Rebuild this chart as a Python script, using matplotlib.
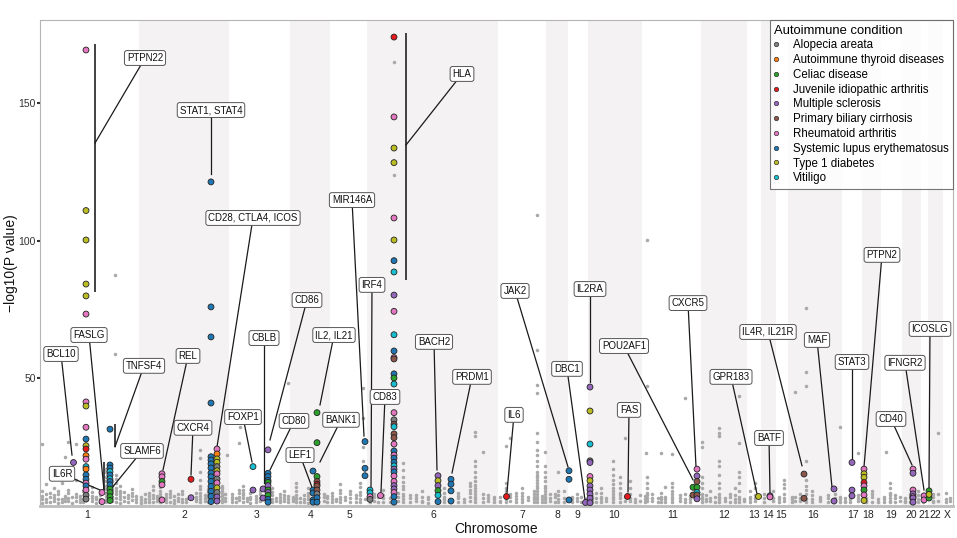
import matplotlib
matplotlib.use("Agg")
import matplotlib.pyplot as plt
from matplotlib.lines import Line2D

plt.rcParams['font.family'] = ['Liberation Sans', 'DejaVu Sans']

# ---------------- data ----------------
chrom_names = ["1", "2", "3", "4", "5", "6", "7", "8", "9", "10", "11", "12",
               "13", "14", "15", "16", "17", "18", "19", "20", "21", "22", "X"]
chrom_start = [0, 99, 189, 250, 290, 327, 458, 506, 528, 548, 602, 661,
               707, 721, 736, 748, 802, 822, 841, 862, 881, 888, 903]
chrom_end = [99, 189, 250, 290, 327, 458, 506, 528, 548, 602, 661, 707,
             721, 736, 748, 802, 822, 841, 862, 881, 888, 903, 913]
chrom_tick = [47, 144, 217, 271, 309, 393, 482, 517, 537, 574, 633, 684,
              714, 728, 741, 773, 813, 828, 851, 871, 884, 895, 907]

cond_names = ["Alopecia areata", "Autoimmune thyroid diseases", "Celiac disease",
              "Juvenile idiopathic arthritis", "Multiple sclerosis",
              "Primary biliary cirrhosis", "Rheumatoid arthritis",
              "Systemic lupus erythematosus", "Type 1 diabetes", "Vitiligo"]
cond_codes = ["A", "T", "C", "J", "M", "P", "R", "S", "D", "V"]
cond_colors = ["#7F7F7F", "#FF7F0E", "#2CA02C", "#E41A1C", "#9467BD",
               "#8C564B", "#E377C2", "#1F77B4", "#BCBD22", "#17BECF"]

# significant associations: one column per locus
col_pos = [46, 33, 62, 70, 122, 151, 171, 177, 213, 223, 228, 273, 277, 325, 330,
           340, 354, 398, 411, 466, 529, 545, 550, 587, 653, 657, 718, 730, 764,
           794, 812, 824, 873, 884, 889]
col_vals = [
    [169.2, 110.9, 100.2, 84.2, 79.9, 73.3, 41.4, 39.9, 32.2, 27.9, 25.5, 24.3, 21.9,
     20.6, 17.9, 17.0, 14.9, 13.3, 11.9, 10.9, 9.4, 7.5, 6.1],
    [19.7],
    [8.5, 5.2],
    [31.5, 18.5, 17.4, 16.1, 14.9, 13.5, 12.5, 11.3, 9.8, 8.5, 7.0, 5.6],
    [15.3, 14.2, 12.5, 11.3, 5.8],
    [13.3, 6.6],
    [121.3, 75.9, 65.0, 41.0, 21.5, 20.3, 18.9, 17.4, 15.6, 14.2, 12.5, 10.7, 8.9, 7.1, 5.2],
    [24.3, 22.5, 20.7, 19.5, 17.9, 16.4, 15.3, 13.4, 12.0, 10.2, 8.5, 6.9, 5.4],
    [17.9, 9.4],
    [9.8, 6.5],
    [24.0, 15.5, 14.3, 12.9, 12.2, 11.0, 9.4, 8.5, 7.5, 6.0, 5.0],
    [16.3, 9.4, 8.3, 5.8, 5.0],
    [37.5, 26.6, 14.3, 12.5, 11.5, 10.9, 9.4, 8.0, 6.6, 5.0],
    [27.0, 17.3, 14.6],
    [9.4, 8.4, 7.0, 6.0],
    [7.5],
    [173.9, 144.9, 133.6, 128.3, 108.2, 100.2, 92.7, 88.6, 80.2, 74.3, 65.8, 59.9, 57.5,
     57.0, 51.6, 50.1, 47.9, 37.5, 34.9, 33.3, 32.4, 29.8, 28.4, 26.1, 23.6, 22.1, 21.0,
     19.5, 18.2, 17.0, 16.0, 14.5, 12.5, 11.0, 9.8, 8.5, 7.0, 5.0],
    [14.6, 12.8, 11.0, 9.2, 7.5, 5.2],
    [13.3, 11.5, 9.1, 5.4],
    [7.3],
    [16.4, 13.3, 5.8],
    [5.1],
    [46.8, 38.1, 26.1, 20.0, 19.4, 14.3, 12.8, 10.9, 9.4, 8.0, 6.4, 4.8],
    [7.3],
    [10.4, 7.6],
    [17.0, 14.5, 12.5, 10.4, 8.5, 7.6, 6.2],
    [7.3],
    [7.3, 6.9],
    [15.2, 6.4],
    [9.8, 5.4],
    [19.4, 9.4, 7.3],
    [17.0, 15.3, 14.0, 12.1, 10.9, 9.4, 7.6, 5.6],
    [17.0, 15.5, 9.4, 8.0, 7.0, 6.5, 5.0],
    [7.3, 5.8],
    [9.1, 6.5, 7.8],
]
col_conds = [
    "RDDDDRRDRSDJTRVTSSRSRAA", "M", "RR", "SSSVSVSSCCCC", "RRCRR", "JM",
    "SSSSSSSSSSSSSSS", "RTDDADRARDAMM", "VM", "MM", "MSSSCMCMCSS", "SSSSS",
    "CCCPJPPASS", "SSS", "VVRA", "R",
    "JRDDRDSVMRVSRPSCVRAPVPPRSRSSVMSRRMMRSS",
    "MDMCVS", "SSSS", "J", "SSS", "M", "MDVAMRDMMMMM", "J", "CP", "RMPCVPM",
    "D", "MR", "PP", "MM", "MMM", "RDDJRCRD", "RMRMRMM", "RR", "CCD",
]

# background SNPs: streaks of points at one position
gray_pos = [2, 6, 10, 14, 18, 22, 25, 28, 32, 36, 40, 43, 52, 56, 60, 66, 72, 75, 76, 80,
            84, 88, 92, 96,
            101, 105, 109, 113, 117, 120, 126, 130, 134, 138, 142, 146, 156, 160, 165,
            168, 182, 185, 187,
            192, 196, 199, 200, 203, 207, 210, 216, 220, 232, 236, 240, 244, 248,
            253, 256, 260, 264, 268, 284, 287,
            292, 296, 300, 305, 310, 316, 320, 323, 325,
            330, 334, 338, 343, 350, 354, 358, 363, 370, 376, 382, 388, 404, 418, 424,
            430, 435, 443, 448, 454,
            460, 466, 470, 476, 482, 488, 494, 497, 502,
            505, 510, 515, 518, 524,
            532, 537, 541, 546,
            552, 556, 561, 566, 573, 580, 585, 590, 595, 600,
            605, 606, 607, 612, 618, 621, 625, 632, 640, 645, 650,
            662, 666, 670, 675, 679, 685, 690, 695, 699, 704,
            710, 715, 724, 733, 739, 744,
            752, 755, 760, 766, 772, 780, 788, 795, 800,
            805, 810, 818, 826, 832, 838, 844, 846, 850, 855, 860,
            865, 870, 878, 883, 893, 898, 906, 910]
gray_vals = [
    [4.8, 6.0, 7.1, 9.0, 26.1], [5.2, 6.3, 8.0, 11.5], [4.9, 7.0, 8.2],
    [5.4, 6.5, 7.6, 10.0], [4.7, 6.0, 7.8, 9.1], [5.0, 6.1, 12.0],
    [5.5, 6.5, 7.4, 21.5], [5.3, 6.4, 8.5, 9.5, 27.0], [4.8, 7.0],
    [5.5, 6.8, 8.0, 13.0, 26.1], [5.2, 6.2, 7.3], [4.9, 6.3, 9.0],
    [5.4, 6.5, 7.2, 8.8, 10.5], [4.8, 6.0, 7.0], [5.0, 6.2, 7.5],
    [5.0, 6.2, 7.2, 8.2, 9.6, 11.0, 12.5, 14.0, 16.0, 17.0],
    [5.5, 6.3, 7.0, 8.2, 9.5, 11.0, 12.5], [87.5, 58.8],
    [5.2, 6.6, 8.0, 9.0, 10.0, 11.8, 13.5, 15.0], [4.8, 6.0, 7.3, 8.2, 9.0, 11.0],
    [5.4, 6.8, 8.6], [5.0, 6.5, 7.6], [5.8, 7.4, 8.5, 9.6], [5.2, 6.3, 7.1],
    [4.8, 5.8, 7.0], [5.2, 6.2, 8.1], [5.0, 6.0, 7.2, 8.5], [4.9, 6.5, 7.5, 9.5, 11.0],
    [5.3, 6.4, 7.2], [5.1, 6.8, 8.0, 9.0, 10.5, 12.0, 14.0], [5.0, 6.0, 7.0, 8.0],
    [5.2, 6.8, 7.8, 9.0], [4.8, 5.8, 7.4], [5.3, 6.5, 7.8], [5.0, 6.3, 8.0, 9.2],
    [4.9, 6.3], [5.4, 6.2, 7.0, 8.2],
    [5.0, 6.0, 7.1, 8.4, 9.6, 11.0, 13.0, 16.0, 21.0, 24.0], [5.5, 6.5, 7.5],
    [5.0, 6.4, 7.6, 8.6, 9.8], [5.0, 6.0, 7.2, 8.0, 9.0, 10.0, 11.0], [5.4, 6.6, 7.8],
    [22.1],
    [4.9, 6.0, 7.0, 8.0], [5.2, 6.4], [5.6, 7.0, 8.4, 9.5, 26.5], [32.4],
    [5.0, 6.5, 7.5, 8.5, 9.5, 11.0], [5.5, 6.5], [4.8, 6.0, 7.0, 8.5], [5.0, 6.2, 7.3],
    [5.4, 6.6, 7.8, 9.0], [5.0, 6.0, 7.5, 8.6, 10.0], [5.3, 6.5], [4.9, 5.9, 6.8, 8.0],
    [5.5, 6.6, 7.7, 9.0], [5.0, 6.2, 7.2, 48.3],
    [5.5, 6.3, 7.0], [4.9, 6.0, 6.5, 7.6, 9.0, 10.5, 12.0], [5.2, 6.4], [5.0, 6.2, 7.5],
    [4.8, 6.0, 7.2, 8.3, 10.0], [5.5, 6.7, 8.0], [5.0, 6.5, 7.4],
    [5.0, 6.0, 7.2, 8.5], [5.3, 6.3], [4.9, 6.0, 7.0, 8.2, 9.5, 11.5], [5.8, 6.8],
    [5.0, 6.6, 8.0, 9.2], [5.2, 6.4, 7.5], [5.2, 6.3, 7.5, 8.8, 10.5, 12.0],
    [46.5, 35.6, 25.0, 20.0], [6.0],
    [4.9, 6.0, 7.2], [5.5, 6.8, 8.0], [5.0, 7.0], [5.2, 6.4, 7.6, 9.5], [5.0, 6.5],
    [164.9, 123.8], [5.4, 7.0, 8.2],
    [5.0, 6.2, 7.4, 8.0, 9.6, 11.0, 12.4, 14.0, 16.5, 19.2], [5.0, 6.5, 7.7],
    [5.4, 6.5, 7.5], [5.0, 5.5, 7.0, 9.0], [4.8, 6.0, 7.0], [5.2, 6.2, 7.0, 8.5, 10.0],
    [5.0, 6.5, 7.4, 8.5], [5.0, 6.0], [5.5, 7.0, 8.2, 9.5, 11.0, 12.0],
    [5.0, 6.0, 7.0, 8.0, 9.0, 10.2, 11.4, 12.6, 14.0, 16.0, 18.0, 20.0, 29.2, 30.6],
    [5.2, 6.5, 8.0, 23.3], [5.5, 6.5, 7.5], [5.0, 6.0, 7.0],
    [5.0, 5.5, 6.8], [5.0, 6.0, 7.0, 8.0, 9.0, 10.2, 12.0, 25.4], [5.5, 7.0, 8.0, 28.3],
    [5.2, 6.3, 7.4, 8.5], [5.0, 6.3, 7.2, 8.5, 10.0], [5.8, 6.8],
    [5.0, 6.0, 7.0, 8.0, 9.0],
    [5.0, 6.0, 7.0, 8.0, 9.0, 10.0, 11.0, 12.0, 13.0, 14.0, 15.0, 16.0, 18.0, 20.0,
     22.0, 24.0, 27.0, 30.1, 44.7, 47.6, 60.3, 109.3],
    [5.0, 6.2, 7.2],
    [5.0, 6.0, 7.0, 8.0, 9.0, 10.0, 11.0, 12.5, 14.0, 16.0, 18.0, 23.3],
    [5.5, 6.6, 8.0], [5.0, 6.8, 7.8], [5.2, 6.2, 7.5, 9.0, 16.0], [5.2, 6.5, 9.0],
    [5.0, 6.0, 7.0], [5.5, 6.5, 8.0], [5.0, 7.0], [5.3, 6.3],
    [5.0, 6.0, 7.2], [5.2, 6.5, 8.5], [5.0, 6.0, 7.0, 8.5, 10.0], [5.5, 6.5],
    [5.0, 6.0, 7.0, 8.0, 9.0, 10.0, 11.5, 13.0, 15.0, 17.0, 20.0],
    [5.2, 6.5, 7.5, 8.5, 10.0, 12.0, 14.0], [5.5, 7.0, 28.3],
    [5.3, 6.5, 8.0, 10.0, 12.5], [5.0, 6.2], [5.5, 7.5],
    [5.0, 6.0, 7.2], [22.7], [5.5, 6.5, 7.5, 8.5, 10.0, 12.0, 14.0, 47.2, 100.2],
    [5.4, 6.4, 8.0], [5.0, 6.5], [5.0, 6.0, 7.0, 8.5, 23.0], [5.2, 6.2, 7.0, 10.5],
    [5.0, 6.0, 7.0, 8.0, 9.0, 10.5, 12.0, 22.5], [5.5, 6.5, 7.5], [5.0, 6.0, 8.0, 43.0],
    [5.2, 6.2, 7.2],
    [5.0, 6.0, 7.0, 8.0, 10.0, 12.0, 14.0, 25.2, 27.0], [5.5, 6.0, 7.5], [5.3, 6.5, 9.0],
    [5.0, 7.0], [5.0, 6.0, 7.0, 8.0, 10.0, 12.0, 15.0, 18.0, 20.0, 29.0, 30.0, 32.0],
    [5.5, 6.5], [5.0, 6.8, 7.8], [5.2, 6.2, 7.5, 10.0],
    [5.0, 6.0, 7.0, 9.0, 12.0, 14.0, 16.0, 26.5, 43.6], [5.5, 6.0],
    [5.0, 6.0, 7.0, 9.0], [5.5, 6.5, 7.5, 10.0, 12.0], [5.0, 6.5, 8.0], [5.3, 6.5, 9.0],
    [5.0, 6.0, 7.0], [5.5, 6.5, 8.0, 10.0, 11.5, 13.0],
    [5.0, 6.0, 7.0], [5.5, 7.0, 45.1], [5.5, 6.5, 8.0],
    [5.0, 6.0, 8.0, 9.5, 11.0, 13.0, 20.0, 47.2, 52.4, 75.6], [5.0, 6.0, 7.5, 9.0],
    [5.3, 6.3, 7.0], [5.0, 6.5, 7.6], [5.5, 6.5, 8.0], [5.0, 6.0, 7.0, 32.4],
    [5.0, 5.5, 6.5], [5.0, 6.0, 7.5], [5.5, 6.5, 7.5, 22.9], [5.0, 5.5, 6.5],
    [5.0, 6.8, 8.0, 9.0], [5.2, 6.2], [5.0, 6.0, 7.0], [23.3],
    [5.0, 5.5, 6.5, 7.5, 8.5, 10.0, 12.0], [5.0, 6.5, 7.5], [5.5, 7.0],
    [5.0, 5.5, 6.5], [5.0, 6.5, 7.5], [5.2, 6.2, 7.5, 9.0], [5.0, 6.0],
    [5.0, 5.5, 7.0, 8.0], [5.5, 8.0, 30.0], [5.0, 6.0, 8.5], [5.3, 6.5],
]

# gene labels: text, label position, leader end point
label_text = ["PTPN22", "STAT1, STAT4", "CD28, CTLA4, ICOS", "CD86", "CBLB", "FOXP1",
              "CD80", "BCL10", "FASLG", "TNFSF4", "SLAMF6", "IL6R", "REL", "CXCR4",
              "IL2, IL21", "LEF1", "BANK1", "MIR146A", "IRF4", "CD83", "HLA", "BACH2",
              "PRDM1", "IL6", "JAK2", "DBC1", "IL2RA", "POU2AF1", "FAS", "CXCR5",
              "GPR183", "BATF", "IL4R, IL21R", "MAF", "STAT3", "PTPN2", "CD40",
              "IFNGR2", "ICOSLG"]
label_x = [105, 171, 213, 267, 224, 203, 254, 21, 49, 104, 102, 22, 148, 153, 294,
           260, 301, 312, 332, 345, 422, 394, 432, 474, 475, 527, 550, 584, 589, 648,
           691, 729, 728, 777, 812, 842, 851, 865, 890]
label_y = [166.3, 147.4, 108.2, 78.4, 64.6, 35.9, 34.5, 58.8, 65.7, 54.5, 23.6, 15.3,
           58.1, 32.0, 65.7, 22.1, 34.9, 114.7, 83.9, 43.2, 160.5, 63.2, 50.5, 36.7,
           81.7, 53.4, 82.4, 61.7, 38.5, 77.3, 50.5, 28.3, 66.8, 63.9, 55.9, 94.8,
           35.2, 55.6, 67.9]
target_x = [55, 171, 177, 230, 224, 212, 230, 32, 64, 75, 68, 60, 123, 151, 280, 273,
            280, 324, 331, 341, 366, 397, 412, 467, 528, 545, 550, 653, 588, 656, 717,
            730, 762, 792, 812, 824, 872, 884, 889]
target_y = [135.4, 124.2, 25.1, 27.6, 12.0, 19.6, 16.7, 22.1, 9.4, 25.1, 8.4, 9.4,
            16.7, 14.9, 40.3, 9.4, 19.6, 29.0, 9.4, 8.7, 134.7, 16.7, 15.6, 8.7, 17.8,
            5.8, 48.7, 13.1, 8.7, 17.8, 8.0, 8.4, 18.2, 10.5, 20.7, 17.8, 18.5, 9.4,
            9.4]

# vertical brackets spanning locus clusters
bracket_x = [55, 366, 75, 64]
bracket_lo = [81.3, 85.7, 25.1, 9.4]
bracket_hi = [171.4, 175.4, 33.4, 19.7]

# ---------------- plot ----------------
fig = plt.figure(figsize=(9.57, 5.38), dpi=100)
ax = fig.add_axes([40 / 957, 32 / 538, 913 / 957, 486 / 538])

for i, (s, e) in enumerate(zip(chrom_start, chrom_end)):
    ax.axvspan(s, e, color="#F4F2F3" if i % 2 == 1 else "white", lw=0, zorder=0)

gx, gy = [], []
for p, vals in zip(gray_pos, gray_vals):
    for v in vals:
        gx.append(p)
        gy.append(v)
ax.scatter(gx, gy, s=6.5, color="#A9A9A9", lw=0, zorder=2)

for bx, lo, hi in zip(bracket_x, bracket_lo, bracket_hi):
    ax.plot([bx, bx], [lo, hi], color="#333333", lw=1.3, zorder=3, solid_capstyle="butt")

for lt, lx, ly, tx, ty in zip(label_text, label_x, label_y, target_x, target_y):
    ax.plot([lx, tx], [ly, ty], color="#1A1A1A", lw=0.9, zorder=3)

cmap = dict(zip(cond_codes, cond_colors))
for p, vals, conds in zip(col_pos, col_vals, col_conds):
    ax.scatter([p] * len(vals), vals, s=18, c=[cmap[c] for c in conds],
               edgecolors="#222222", linewidths=0.6, zorder=4)

for lt, lx, ly in zip(label_text, label_x, label_y):
    ax.text(lx, ly, lt, ha="center", va="center", fontsize=7, color="#111111", zorder=6,
            bbox=dict(boxstyle="round,pad=0.25,rounding_size=0.25", fc="white",
                      ec="#555555", lw=0.7))

ax.set_xlim(0, 913)
ax.set_ylim(3.6, 180.1)
ax.set_xticks(chrom_tick)
ax.set_xticklabels(chrom_names)
ax.set_yticks([50, 100, 150])
ax.tick_params(axis="x", length=0, labelsize=7.5, pad=3, colors="#222222")
ax.tick_params(axis="y", length=2, width=1.5, labelsize=7.5, pad=1, colors="#333333")
ax.set_xlabel("Chromosome", fontsize=10, labelpad=1, color="#111111")
ax.set_ylabel("\u2212log10(P value)", fontsize=10, color="#111111")
ax.yaxis.set_label_coords(-0.024, 0.5)

for side in ["top", "right", "left"]:
    ax.spines[side].set_color("#B5B5B5")
    ax.spines[side].set_linewidth(0.8)
ax.spines["bottom"].set_color("#BDBDBD")
ax.spines["bottom"].set_linewidth(2)

handles = [Line2D([], [], marker="o", ls="", markersize=3.2, markerfacecolor=c,
                  markeredgecolor="#333333", markeredgewidth=0.5) for c in cond_colors]
leg = ax.legend(handles, cond_names, title="Autoimmune condition", loc="upper right",
                bbox_to_anchor=(1.0, 1.0), borderaxespad=0, fontsize=8.3,
                title_fontsize=9.4, frameon=True, fancybox=False, handlelength=0.4,
                handletextpad=1.2, labelspacing=0.24, borderpad=0.4,
                alignment="left")
leg.get_frame().set_edgecolor("#555555")
leg.get_frame().set_linewidth(0.8)
leg.set_zorder(10)

fig.savefig("out.png", dpi=100)
